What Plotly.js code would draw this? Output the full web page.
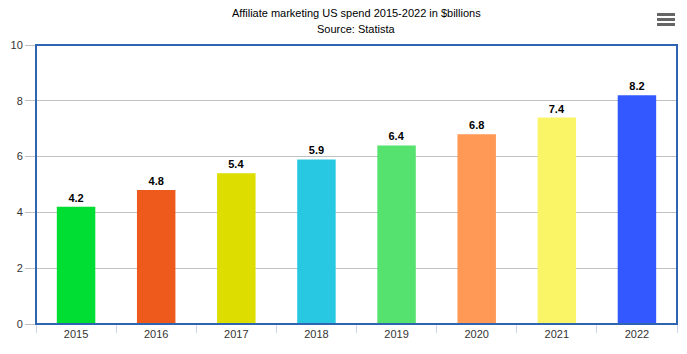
<!DOCTYPE html>
<html>
<head>
<meta charset="utf-8">
<script src="https://cdn.plot.ly/plotly-3.0.1.min.js"></script>
<style>html,body{margin:0;padding:0;background:#fff;}#chart{width:687px;height:354px;}</style>
</head>
<body>
<div id="chart"></div>
<script>
var years = ["2015","2016","2017","2018","2019","2020","2021","2022"];
var spend = [4.2, 4.8, 5.4, 5.9, 6.4, 6.8, 7.4, 8.2];
var barColors = ["#00DD33","#EE5A1C","#DDDD00","#28C8E2","#55E26E","#FF9955","#FAF566","#3358FF"];
var yTicks = [0, 2, 4, 6, 8, 10];

var trace = {
  type: "bar",
  x: years,
  y: spend,
  marker: {color: barColors, line: {width: 0}},
  width: 0.48,
  text: spend.map(function(v){return v.toFixed(1);}),
  textposition: "outside",
  cliponaxis: false,
  textfont: {family: "Liberation Sans, Arial, sans-serif", size: 11, color: "#000", weight: "bold"},
  hoverinfo: "x+y"
};

var layout = {
  width: 687, height: 354,
  margin: {l: 36, r: 10, t: 45, b: 30},
  paper_bgcolor: "#fff", plot_bgcolor: "#fff",
  showlegend: false,
  font: {family: "Liberation Sans, Arial, sans-serif", size: 11, color: "#333"},
  annotations: [
    {text: "Affiliate marketing US spend 2015-2022 in $billions", xref: "paper", yref: "paper", x: 0.5, y: 1, yshift: 32, showarrow: false, xanchor: "center", yanchor: "middle", font: {size: 11, color: "#000"}},
    {text: "Source: Statista", xref: "paper", yref: "paper", x: 0.5, y: 1, yshift: 16, showarrow: false, xanchor: "center", yanchor: "middle", font: {size: 11, color: "#000"}}
  ],
  xaxis: {
    type: "category",
    tickson: "boundaries",
    ticks: "outside", ticklen: 8, tickcolor: "#ccd6eb", tickwidth: 1,
    showline: true, linecolor: "#2E64B0", linewidth: 1,
    showgrid: false,
    tickfont: {size: 11, color: "#333"},
    fixedrange: true
  },
  yaxis: {
    range: [0, 10],
    tickvals: yTicks,
    ticks: "outside", ticklen: 10, tickcolor: "#c0c0c0", tickwidth: 1,
    showgrid: true, gridcolor: "#c0c0c0", gridwidth: 1,
    zeroline: false,
    showline: false,
    tickfont: {size: 11, color: "#333"},
    fixedrange: true
  },
  shapes: [
    {type: "rect", xref: "paper", yref: "paper", x0: 0, x1: 1, y0: 0, y1: 1, line: {color: "#2E64B0", width: 2}, fillcolor: "rgba(0,0,0,0)"}
  ]
};

// hamburger menu icon (decorative)
var menuY = [1.1093, 1.0914, 1.0735];
menuY.forEach(function(yy){
  layout.shapes.push({type: "rect", xref: "paper", yref: "paper", x0: 0.9688, x1: 0.9969, y0: yy - 0.0054, y1: yy + 0.0054, line: {width: 0}, fillcolor: "#666"});
});

Plotly.newPlot("chart", [trace], layout, {displayModeBar: false, responsive: false});
</script>
</body>
</html>
